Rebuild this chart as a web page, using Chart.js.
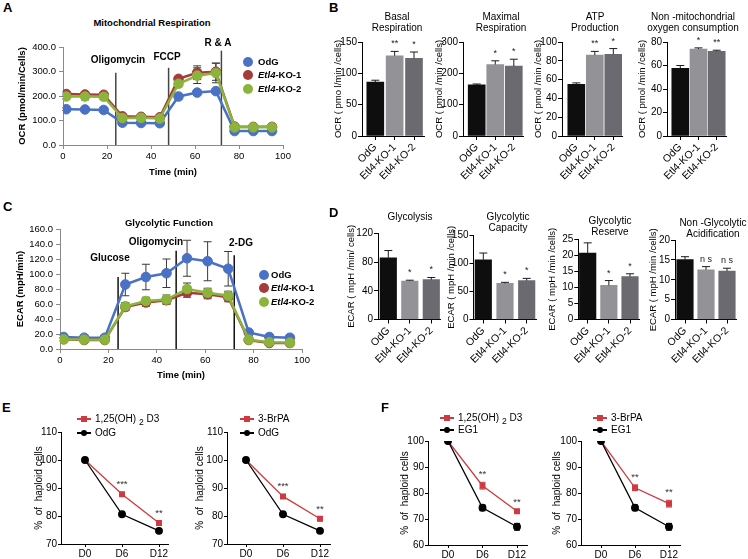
<!DOCTYPE html>
<html><head><meta charset="utf-8">
<script src="https://cdn.jsdelivr.net/npm/chart.js@4.4.1/dist/chart.umd.min.js"></script>
<style>
html,body{margin:0;padding:0;background:#fff;}
#fig{position:relative;width:748px;height:559px;overflow:hidden;font-family:"Liberation Sans",Arial,Helvetica,sans-serif;color:#000;}
#fig canvas{position:absolute;}
.t{position:absolute;white-space:nowrap;line-height:1.15;}
.c{transform:translate(-50%,-50%);text-align:center;}
.l{transform:translate(0,-50%);}
.b{font-weight:bold;}
sub{font-size:0.85em;vertical-align:-0.3em;line-height:0;}
</style></head><body><div id="fig"></div>
<script>
// ---------------- DATA ----------------
// Panel A: mitochondrial respiration (OCR)
const timeMin   = [1.5, 10, 18.5, 27, 35.5, 44, 52.5, 61, 69.5, 78, 86.5, 95];
const ocrOdG    = [146, 145, 143, 91, 90, 89, 198, 214, 220, 57, 57, 57];
const ocrOdGErr = [5, 5, 5, 4, 4, 4, 10, 8, 8, 3, 3, 3];
const ocrKO1    = [208, 206, 205, 117, 115, 113, 270, 295, 299, 75, 74, 74];
const ocrKO1Err = [8, 10, 8, 6, 6, 6, 10, 28, 35, 5, 5, 5];
const ocrKO2    = [198, 198, 197, 110, 111, 108, 250, 283, 294, 72, 72, 72];
const ocrKO2Err = [10, 14, 10, 8, 6, 6, 12, 32, 40, 6, 6, 6];
const ocrInjTimes = [24, 48, 72];
const ocrInjTop   = [295, 315, 385];
const ocrInjNames = ['Oligomycin', 'FCCP', 'R & A'];

// Panel C: glycolytic function (ECAR)
const ecarOdG    = [16, 15, 15, 86, 96, 101, 121, 117, 107, 22, 16, 15];
const ecarOdGErr = [2, 2, 2, 15, 17, 19, 24, 26, 23, 3, 2, 2];
const ecarKO1    = [13, 12, 12, 56, 62, 65, 75, 73, 69, 12, 8, 8];
const ecarKO1Err = [2, 2, 2, 5, 5, 5, 6, 6, 6, 3, 2, 2];
const ecarKO2    = [13, 12.5, 12.5, 57, 64, 66, 80, 75, 71, 12.5, 9, 8.5];
const ecarKO2Err = [2, 2, 2, 5, 5, 6, 8, 6, 6, 3, 2, 2];
const ecarInjTimes = [24, 48, 72];
const ecarInjTop   = [96, 131, 125];
const ecarInjNames = ['Glucose', 'Oligomycin', '2-DG'];

// Panels B and D: bar charts
const groups = ['OdG', 'Etl4-KO-1', 'Etl4-KO-2'];
const basalResp = [86, 128, 124],   basalErr = [3, 7, 10],     basalSig = ['', '**', '*'];
const maxResp   = [163, 228, 223],  maxErr   = [3, 12, 22],    maxSig   = ['', '*', '*'];
const atpProd   = [55, 86, 87],     atpErr   = [1.5, 4, 6],    atpSig   = ['', '**', '*'];
const nonMito   = [57.5, 74, 72],   nonMitoErr = [2.5, 1, 1],  nonMitoSig = ['', '*', '**'];
const glycolysis  = [86, 53.5, 55.5], glycolysisErr = [10, 1.2, 3],  glycolysisSig = ['', '*', '*'];
const glyCapacity = [106, 64, 69],    glyCapacityErr = [12, 2, 4],   glyCapacitySig = ['', '*', '*'];
const glyReserve  = [20.6, 10.6, 13.3], glyReserveErr = [3.2, 1.5, 0.9], glyReserveSig = ['', '*', '*'];
const nonGlyAcid  = [15.1, 12.5, 12.2], nonGlyAcidErr = [0.7, 0.8, 0.7], nonGlyAcidSig = ['', 'n s', 'n s'];

// Panels E and F: % haploid cells
const days = ['D0', 'D6', 'D12'];
const e1Vitd = [100, 87.8, 77.5], e1VitdErr = [0, 0.6, 0.8];
const e1OdG  = [100, 80.6, 74.7], e1OdGErr  = [0, 0.7, 0.5];
const e1Sig  = ['', '***', '**'];
const e2BrPA = [100, 87.0, 79.0], e2BrPAErr = [0, 0.7, 0.7];
const e2OdG  = [100, 80.6, 74.7], e2OdGErr  = [0, 0.7, 0.5];
const e2Sig  = ['', '***', '**'];
const f1Vitd = [100, 82.8, 73.0], f1VitdErr = [0, 1.3, 0.5];
const f1EG1  = [100, 74.3, 67.0], f1EG1Err  = [0, 1.1, 1.3];
const f1Sig  = ['', '**', '**'];
const f2BrPA = [100, 82.0, 75.9], f2BrPAErr = [0, 1.1, 1.3];
const f2EG1  = [100, 74.3, 67.0], f2EG1Err  = [0, 1.1, 1.3];
const f2Sig  = ['', '**', '**'];

// ---------------- STYLE ----------------
const FONT = '"Liberation Sans", Arial, Helvetica, sans-serif';
const BLUE = '#4a71c5', RED = '#a53c39', GREEN = '#8cb43c';
const BAR_COLORS = ['#0e0e0e', '#929297', '#6b6a71'];
const ERED = '#cf3a40';
Chart.defaults.font.family = FONT;
Chart.defaults.color = '#000';

const fig = document.getElementById('fig');
function txt(x, y, html, cls, size, extra) {
  const d = document.createElement('div');
  d.className = 't ' + cls;
  d.style.left = x + 'px'; d.style.top = y + 'px';
  d.style.fontSize = size + 'px';
  if (extra) d.style.cssText += extra;
  d.innerHTML = html;
  fig.appendChild(d);
  return d;
}
function dotLegend(x, y, color, html, tx) {
  const d = document.createElement('div');
  d.style.cssText = `position:absolute;left:${x - 5}px;top:${y - 5}px;width:10px;height:10px;border-radius:50%;background:${color};`;
  fig.appendChild(d);
  txt(tx, y, html, 'l b', 9.5);
}
function lineLegend(x, y, color, square, html) {
  const ln = document.createElement('div');
  ln.style.cssText = `position:absolute;left:${x}px;top:${y - 0.75}px;width:14px;height:1.5px;background:${color};`;
  const mk = document.createElement('div');
  mk.style.cssText = `position:absolute;left:${x + 4}px;top:${y - 3}px;width:6px;height:6px;background:${color};${square ? '' : 'border-radius:50%;'}`;
  fig.append(ln, mk);
  txt(x + 18, y, html, 'l', 10);
}

// overlay plugin: injection lines, error bars, significance marks
function overlay(o) {
  o = o || {};
  function drawErr(chart, layer) {
    const ctx = chart.ctx, ys = chart.scales.y;
    chart.data.datasets.forEach((ds, di) => {
      if (!ds.errs || ds.errLayer !== layer) return;
      const meta = chart.getDatasetMeta(di);
      ctx.save();
      ctx.strokeStyle = ds.errColor || '#000';
      ctx.lineWidth = ds.errWidth || 1;
      const cap = ds.errCap || 4;
      meta.data.forEach((el, i) => {
        const e = ds.errs[i]; if (!e) return;
        const raw = ds.data[i]; const v = typeof raw === 'object' ? raw.y : raw;
        const x = el.x;
        const yt = ys.getPixelForValue(v + e);
        const yb = ds.errUp ? ys.getPixelForValue(v) : ys.getPixelForValue(v - e);
        ctx.beginPath();
        ctx.moveTo(x, yb); ctx.lineTo(x, yt);
        ctx.moveTo(x - cap, yt); ctx.lineTo(x + cap, yt);
        if (!ds.errUp) { ctx.moveTo(x - cap, yb); ctx.lineTo(x + cap, yb); }
        ctx.stroke();
      });
      ctx.restore();
    });
  }
  return {
    id: 'ov',
    beforeDatasetsDraw(chart) {
      const ctx = chart.ctx, xs = chart.scales.x, ys = chart.scales.y;
      if (o.vx) {
        ctx.save(); ctx.strokeStyle = o.vcolor || '#333'; ctx.lineWidth = o.vwidth || 1.5;
        o.vx.forEach((t, i) => {
          const px = xs.getPixelForValue(t);
          ctx.beginPath(); ctx.moveTo(px, ys.getPixelForValue(0)); ctx.lineTo(px, ys.getPixelForValue(o.vtop[i])); ctx.stroke();
        });
        ctx.restore();
      }
      drawErr(chart, 'before');
    },
    afterDatasetsDraw(chart) {
      drawErr(chart, 'after');
      const ctx = chart.ctx, ys = chart.scales.y;
      chart.data.datasets.forEach((ds, di) => {
        if (!ds.sig) return;
        const meta = chart.getDatasetMeta(di);
        ctx.save();
        ctx.fillStyle = o.sigColor || '#222';
        ctx.font = (o.sigSize || 9) + 'px ' + FONT;
        ctx.textAlign = 'center'; ctx.textBaseline = 'bottom';
        meta.data.forEach((el, i) => {
          const s = ds.sig[i]; if (!s) return;
          const raw = ds.data[i]; const v = typeof raw === 'object' ? raw.y : raw;
          const e = ds.errs ? ds.errs[i] : 0;
          ctx.fillText(s, el.x, ys.getPixelForValue(v + e) - (o.sigGap || 2));
        });
        ctx.restore();
      });
    }
  };
}

function place(box, area, cfg) {
  const cv = document.createElement('canvas');
  cv.width = box.w; cv.height = box.h;
  cv.style.left = box.l + 'px'; cv.style.top = box.t + 'px';
  cv.style.width = box.w + 'px'; cv.style.height = box.h + 'px';
  fig.appendChild(cv);
  const o = cfg.options;
  o.responsive = false; o.animation = false; o.devicePixelRatio = 1;
  o.layout = { padding: { left: 0, top: area.y0 - box.t, right: box.l + box.w - area.x1, bottom: 0 } };
  const xh = box.t + box.h - area.y1, yw = area.x0 - box.l;
  o.scales.x.afterFit = s => { s.height = xh; };
  o.scales.y.afterFit = s => { s.width = yw; };
  o.plugins = Object.assign({ legend: { display: false }, tooltip: { enabled: false } }, o.plugins || {});
  return new Chart(cv, cfg);
}

// ---------- Seahorse time courses (A, C) ----------
function seahorse(box, area, s) {
  const datasets = s.series.map(se => ({
    data: timeMin.map((t, i) => ({ x: t, y: se.values[i] })),
    errs: se.errs, errLayer: 'before', errColor: '#3a3a3a', errCap: 4,
    borderColor: se.color, backgroundColor: se.color,
    pointBackgroundColor: se.color, pointBorderColor: se.color,
    borderWidth: 2.5, pointRadius: 4.8, pointBorderWidth: 1, tension: 0, order: se.order
  }));
  const axisCol = '#8a8a8a';
  return place(box, area, {
    type: 'line',
    data: { datasets },
    options: {
      scales: {
        x: { type: 'linear', min: 0, max: 100,
             ticks: { stepSize: 20, font: { size: 9.5 }, padding: 2, color: '#000' },
             grid: { drawOnChartArea: false, tickLength: 4, color: axisCol },
             border: { color: axisCol },
             title: { display: true, text: 'Time (min)', font: { size: 9.5, weight: 'bold' }, padding: { top: 0, bottom: s.xtPad }, color: '#000' } },
        y: { min: 0, max: s.ymax,
             ticks: { stepSize: s.ystep, callback: v => Number(v).toFixed(1), font: { size: 9.5 }, padding: 3, color: '#000' },
             grid: { drawOnChartArea: false, tickLength: 4, color: axisCol },
             border: { color: axisCol },
             title: { display: true, text: s.ytitle, font: { size: 9.5, weight: 'bold' }, padding: { top: s.ytPad, bottom: 0 }, color: '#000' } }
      }
    },
    plugins: [overlay({ vx: s.vx, vtop: s.vtop, vcolor: s.vcolor, vwidth: 1.5 })]
  });
}

// ---------- bar charts (B, D) ----------
function barChart(box, area, c0, sp, b) {
  const n = b.values.length;
  const xmin = -(c0 - area.x0) / sp;
  const xmax = (n - 1) + (area.x1 - (c0 + sp * (n - 1))) / sp;
  return place(box, area, {
    type: 'bar',
    data: { datasets: [{
      data: b.values.map((v, i) => ({ x: i, y: v })),
      backgroundColor: BAR_COLORS, borderWidth: 0, barThickness: b.bw,
      errs: b.errs, errUp: true, errLayer: 'after', errColor: '#1c1c1c', errCap: 4, sig: b.sig
    }] },
    options: {
      scales: {
        x: { type: 'linear', min: xmin, max: xmax, offset: false,
             afterBuildTicks: s => { s.ticks = groups.map((g, i) => ({ value: i })); },
             ticks: { callback: v => groups[v], autoSkip: false, minRotation: 45, maxRotation: 45, padding: 1, font: { size: 10.5 }, color: '#000' },
             grid: { offset: false, drawOnChartArea: false, drawTicks: true, tickLength: 4, color: '#000' },
             border: { color: '#000' } },
        y: { min: 0, max: b.ymax,
             ticks: { stepSize: b.ystep, font: { size: 10 }, padding: 1, color: '#000' },
             grid: { drawOnChartArea: false, tickLength: 4, color: '#000' },
             border: { color: '#000' },
             title: { display: true, text: b.ytitle, font: { size: 9.5 }, padding: { top: 3, bottom: 0 }, color: '#000' } }
      }
    },
    plugins: [overlay({ sigSize: 9, sigGap: 3 })]
  });
}

// ---------- haploid time courses (E, F) ----------
function survChart(box, area, c0, sp, s) {
  const n = days.length;
  const xmin = -(c0 - area.x0) / sp;
  const xmax = (n - 1) + (area.x1 - (c0 + sp * (n - 1))) / sp;
  const mk = (vals, errs, col, style, order, sig) => ({
    data: vals.map((v, i) => ({ x: i, y: v })), errs, errLayer: 'before', errColor: col, errCap: 3,
    borderColor: col, backgroundColor: col, pointBackgroundColor: col, pointBorderColor: col,
    pointStyle: style, pointRadius: 3.3, borderWidth: 1.3, tension: 0, order, sig
  });
  return place(box, area, {
    type: 'line',
    data: { datasets: [mk(s.treat, s.treatErr, ERED, 'rect', 1, s.sig), mk(s.ctrl, s.ctrlErr, '#000', 'circle', 0, null)] },
    options: {
      scales: {
        x: { type: 'linear', min: xmin, max: xmax,
             afterBuildTicks: sc => { sc.ticks = days.map((d, i) => ({ value: i })); },
             ticks: { callback: v => days[v], autoSkip: false, maxRotation: 0, padding: 1, font: { size: 10 }, color: '#000' },
             grid: { drawOnChartArea: false, tickLength: 3, color: '#000' },
             border: { color: '#000' } },
        y: { min: s.ymin, max: s.ymax,
             ticks: { stepSize: 10, font: { size: 10 }, padding: 1, color: '#000' },
             grid: { drawOnChartArea: false, tickLength: 3, color: '#000' },
             border: { color: '#000' },
             title: { display: true, text: '%  of  haploid cells', font: { size: 10 }, padding: { top: 5, bottom: 0 }, color: '#000' } }
      }
    },
    plugins: [overlay({ sigSize: 9.5, sigGap: 3, sigColor: '#333' })]
  });
}

// ================= PANEL A =================
seahorse({ l: 0, t: 30, w: 300, h: 155 }, { x0: 63, x1: 283, y0: 47, y1: 145 }, {
  series: [
    { values: ocrOdG, errs: ocrOdGErr, color: BLUE, order: 2 },
    { values: ocrKO1, errs: ocrKO1Err, color: RED, order: 1 },
    { values: ocrKO2, errs: ocrKO2Err, color: GREEN, order: 0 }
  ],
  ymax: 400, ystep: 50, ytitle: 'OCR (pmol/min/Cells)', ytPad: 17, xtPad: 7,
  vx: ocrInjTimes, vtop: ocrInjTop, vcolor: '#454545'
});
txt(3, 1, 'A', 'b', 13);
txt(152, 23, 'Mitochondrial Respiration', 'c b', 9.5);
txt(118, 60, ocrInjNames[0], 'c b', 10);
txt(167, 57, ocrInjNames[1], 'c b', 10);
txt(218, 43, ocrInjNames[2], 'c b', 10);
dotLegend(248, 62, BLUE, 'OdG', 258);
dotLegend(248, 75, RED, '<i>Etl4</i>-KO-1', 258);
dotLegend(248, 89, GREEN, '<i>Etl4</i>-KO-2', 258);

// ================= PANEL C =================
seahorse({ l: 0, t: 215, w: 314, h: 170 }, { x0: 60, x1: 302, y0: 229, y1: 349 }, {
  series: [
    { values: ecarOdG, errs: ecarOdGErr, color: BLUE, order: 2 },
    { values: ecarKO1, errs: ecarKO1Err, color: RED, order: 1 },
    { values: ecarKO2, errs: ecarKO2Err, color: GREEN, order: 0 }
  ],
  ymax: 160, ystep: 20, ytitle: 'ECAR (mpH/min)', ytPad: 15, xtPad: 4,
  vx: ecarInjTimes, vtop: ecarInjTop, vcolor: '#111'
});
txt(3, 200, 'C', 'b', 13);
txt(169, 223, 'Glycolytic Function', 'c b', 9.5);
txt(110, 258, ecarInjNames[0], 'c b', 10);
txt(156, 242, ecarInjNames[1], 'c b', 10);
txt(241, 243, ecarInjNames[2], 'c b', 10);
dotLegend(264, 275, BLUE, 'OdG', 271);
dotLegend(264, 288, RED, '<i>Etl4</i>-KO-1', 271);
dotLegend(264, 302, GREEN, '<i>Etl4</i>-KO-2', 271);

// ================= PANEL B =================
txt(329, 1, 'B', 'b', 13);
const ocrY = 'OCR ( pmol /min /cells)';
barChart({ l: 330, t: 30, w: 100, h: 170 }, { x0: 362, x1: 424, y0: 42, y1: 136 }, 375.3, 19.35,
  { values: basalResp, errs: basalErr, sig: basalSig, ymax: 150, ystep: 50, ytitle: 'OCR ( pmo l/min /cells)', bw: 17 });
barChart({ l: 431, t: 30, w: 98, h: 170 }, { x0: 463, x1: 523, y0: 42, y1: 136 }, 476.7, 18.55,
  { values: maxResp, errs: maxErr, sig: maxSig, ymax: 300, ystep: 100, ytitle: ocrY, bw: 17 });
barChart({ l: 530, t: 30, w: 98, h: 170 }, { x0: 562, x1: 622, y0: 42, y1: 136 }, 576.3, 18.5,
  { values: atpProd, errs: atpErr, sig: atpSig, ymax: 100, ystep: 20, ytitle: ocrY, bw: 17 });
barChart({ l: 634, t: 30, w: 98, h: 170 }, { x0: 667, x1: 726, y0: 42, y1: 136 }, 680.3, 18.2,
  { values: nonMito, errs: nonMitoErr, sig: nonMitoSig, ymax: 80, ystep: 20, ytitle: ocrY, bw: 17 });
txt(397, 21.5, 'Basal<br>Respiration', 'c', 10);
txt(501, 21.5, 'Maximal<br>Respiration', 'c', 10);
txt(595, 21.5, 'ATP<br>Production', 'c', 10);
txt(693, 21.5, 'Non -mitochondrial<br>oxygen  consumption', 'c', 10);

// ================= PANEL D =================
txt(329, 206, 'D', 'b', 13);
const ecarY = 'ECAR ( mpH /min /cells)';
barChart({ l: 343, t: 215, w: 103, h: 175 }, { x0: 378, x1: 440, y0: 233.3, y1: 319.5 }, 388.3, 21.5,
  { values: glycolysis, errs: glycolysisErr, sig: glycolysisSig, ymax: 120, ystep: 20, ytitle: 'ECAR ( mpH /min/ cells)', bw: 16.5 });
barChart({ l: 443, t: 215, w: 99, h: 175 }, { x0: 473.5, x1: 536, y0: 235, y1: 319.5 }, 483.3, 21.7,
  { values: glyCapacity, errs: glyCapacityErr, sig: glyCapacitySig, ymax: 150, ystep: 50, ytitle: ecarY, bw: 16.5 });
barChart({ l: 544, t: 215, w: 101, h: 175 }, { x0: 578.3, x1: 639, y0: 239, y1: 319.5 }, 587.7, 21.15,
  { values: glyReserve, errs: glyReserveErr, sig: glyReserveSig, ymax: 25, ystep: 5, ytitle: ecarY, bw: 16.5 });
barChart({ l: 645, t: 215, w: 97, h: 175 }, { x0: 675, x1: 736, y0: 240, y1: 319.5 }, 685, 21,
  { values: nonGlyAcid, errs: nonGlyAcidErr, sig: nonGlyAcidSig, ymax: 20, ystep: 5, ytitle: ecarY, bw: 16.5 });
txt(410, 217, 'Glycolysis', 'c', 10);
txt(508, 221.5, 'Glycolytic<br>Capacity', 'c', 10);
txt(610, 225.5, 'Glycolytic<br>Reserve', 'c', 10);
txt(713, 227.5, 'Non -Glycolytic<br>Acidification', 'c', 10);

// ================= PANEL E =================
txt(2, 401, 'E', 'b', 13);
survChart({ l: 28, t: 420, w: 147, h: 139 }, { x0: 61, x1: 168, y0: 432, y1: 544 }, 85, 37,
  { treat: e1Vitd, treatErr: e1VitdErr, ctrl: e1OdG, ctrlErr: e1OdGErr, sig: e1Sig, ymin: 70, ymax: 110 });
survChart({ l: 189, t: 420, w: 149, h: 139 }, { x0: 227, x1: 330, y0: 432, y1: 544 }, 246, 37,
  { treat: e2BrPA, treatErr: e2BrPAErr, ctrl: e2OdG, ctrlErr: e2OdGErr, sig: e2Sig, ymin: 70, ymax: 110 });
lineLegend(77, 419, ERED, true, '1,25(OH) <sub>2</sub> D3');
lineLegend(77, 433, '#000', false, 'OdG');
lineLegend(240, 419, ERED, true, '3-BrPA');
lineLegend(240, 433, '#000', false, 'OdG');

// ================= PANEL F =================
txt(381, 401, 'F', 'b', 13);
survChart({ l: 394, t: 425, w: 140, h: 134 }, { x0: 428, x1: 527, y0: 441, y1: 545 }, 448, 34.5,
  { treat: f1Vitd, treatErr: f1VitdErr, ctrl: f1EG1, ctrlErr: f1EG1Err, sig: f1Sig, ymin: 60, ymax: 100 });
survChart({ l: 546, t: 425, w: 140, h: 134 }, { x0: 581, x1: 680, y0: 441, y1: 545 }, 601, 34,
  { treat: f2BrPA, treatErr: f2BrPAErr, ctrl: f2EG1, ctrlErr: f2EG1Err, sig: f2Sig, ymin: 60, ymax: 100 });
lineLegend(440, 418, ERED, true, '1,25(OH) <sub>2</sub> D3');
lineLegend(440, 430, '#000', false, 'EG1');
lineLegend(593, 418, ERED, true, '3-BrPA');
lineLegend(593, 430, '#000', false, 'EG1');
</script></body></html>
